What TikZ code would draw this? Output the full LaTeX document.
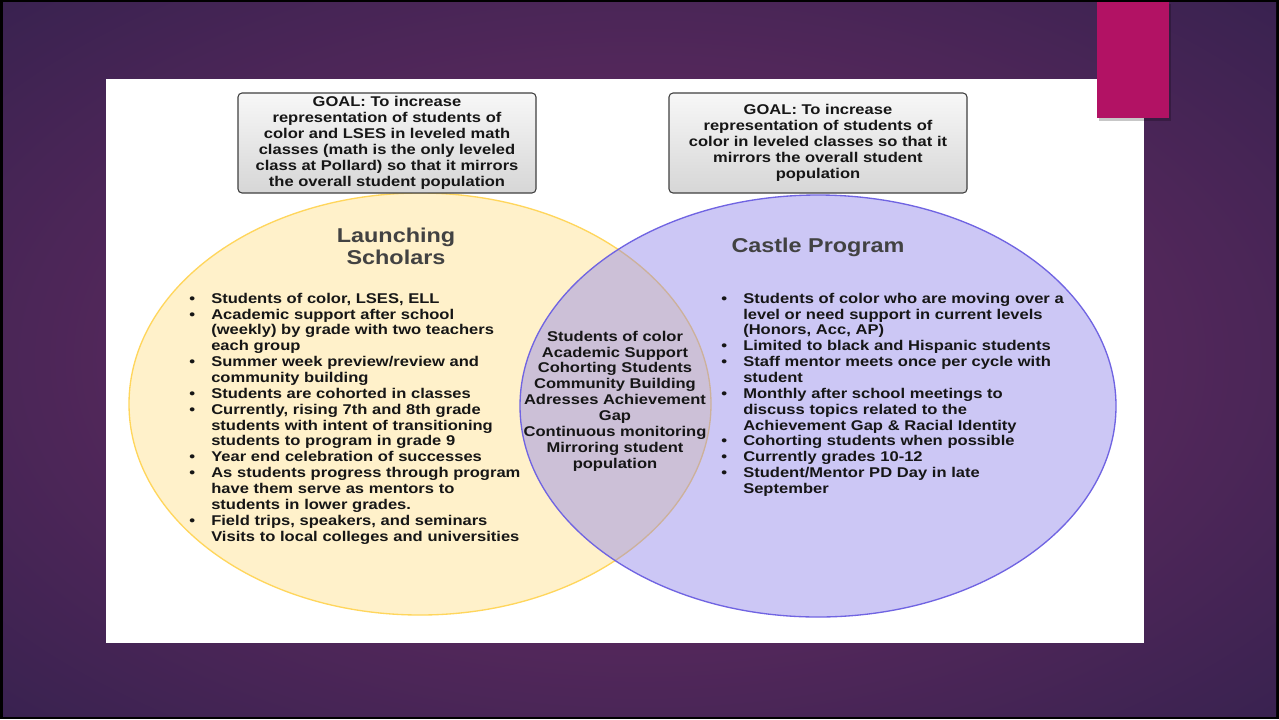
\documentclass[tikz,border=0pt]{standalone}
\usepackage{fontspec}
\setmainfont{Liberation Sans}[FakeStretch=1.17]
\usepackage{enumitem}
\usetikzlibrary{positioning,calc}
\definecolor{SlideDeep}{RGB}{33,29,70}
\definecolor{SlidePlum}{RGB}{96,42,96}
\definecolor{TabMagenta}{RGB}{178,18,100}
\definecolor{SunFill}{RGB}{255,241,202}
\definecolor{SunLine}{RGB}{255,214,92}
\definecolor{LilacFill}{RGB}{144,133,233}
\definecolor{LilacLine}{RGB}{112,100,226}
\definecolor{TitleGray}{RGB}{66,66,66}
\definecolor{InkBlack}{RGB}{22,22,22}
\pgfdeclareradialshading{slideglow}{\pgfpoint{0bp}{0bp}}{%
  color(0bp)=(SlidePlum); color(12bp)=(SlidePlum);
  color(50bp)=(SlideDeep); color(100bp)=(SlideDeep)}
\setlist[itemize]{label=\textbullet,leftmargin=0pt,labelsep=12pt,
  itemsep=0pt,parsep=0pt,topsep=0pt,partopsep=0pt}
\newcommand{\bodyfont}{\bfseries\fontsize{10.6}{11.9}\selectfont}
\tikzset{
  goal/.style={draw=black!75,line width=.8pt,rounded corners=3pt,
    top color=gray!6,bottom color=gray!32,minimum width=223.5pt,
    minimum height=75pt,inner sep=0pt,align=center,font=\bodyfont,text=InkBlack},
  setA/.style={fill=SunFill,draw=SunLine,line width=1pt},
  setB/.style={fill=LilacFill,fill opacity=.45,draw=LilacLine,draw opacity=1,line width=1pt},
  heading/.style={font=\bfseries\fontsize{15}{16.5}\selectfont,text=TitleGray,align=center},
  facts/.style={anchor=north west,inner sep=0pt,align=left,font=\bodyfont,text=InkBlack},
}

\begin{document}
\begin{tikzpicture}[x=0.75pt,y=-0.75pt]
\useasboundingbox (0,0) rectangle (1279,719);
% slide backdrop
\fill[black] (0,0) rectangle (1279,719);
\shade[shading=slideglow] (3,2) rectangle (1276,716);
\fill[white] (106,79) rectangle (1144,643);
\fill[black,opacity=.22] (1099,4) rectangle (1171,121);
\fill[TabMagenta] (1097,2) rectangle (1169,118);

% the two programs
\coordinate (launch) at (420,404);
\coordinate (castle) at (818,406);
\draw[setA] (launch) ellipse [x radius=291,y radius=211];
\draw[setB] (castle) ellipse [x radius=298,y radius=211];

\node[goal] (goalL) at (387,143) {GOAL: To increase\\representation of students of\\color and LSES in leveled math\\classes (math is the only leveled\\class at Pollard) so that it mirrors\\the overall student population};
\node[goal] (goalR) at (818,143) {GOAL: To increase\\representation of students of\\color in leveled classes so that it\\mirrors the overall student\\population};

\node[heading] (titleL) at (396,246) {Launching\\Scholars};
\node[heading] (titleR) at (818,247) {Castle Program};

\node[facts,text width=250pt] (listL) at (211,287) {%
\begin{itemize}
\item Students of color, LSES, ELL
\item Academic support after school\newline (weekly) by grade with two teachers\newline each group
\item Summer week preview/review and\newline community building
\item Students are cohorted in classes
\item Currently, rising 7th and 8th grade\newline students with intent of transitioning\newline students to program in grade 9
\item Year end celebration of successes
\item As students progress through program\newline have them serve as mentors to\newline students in lower grades.
\item Field trips, speakers, and seminars\newline Visits to local colleges and universities
\end{itemize}};

\node[font=\bodyfont,text=InkBlack,align=center] (shared) at (615,401) {Students of color\\Academic Support\\Cohorting Students\\Community Building\\Adresses Achievement\\Gap\\Continuous monitoring\\Mirroring student\\population};

\node[facts,text width=260pt] (listR) at (743,287) {%
\begin{itemize}
\item Students of color who are moving over a\newline level or need support in current levels\newline (Honors, Acc, AP)
\item Limited to black and Hispanic students
\item Staff mentor meets once per cycle with\newline student
\item Monthly after school meetings to\newline discuss topics related to the\newline Achievement Gap \& Racial Identity
\item Cohorting students when possible
\item Currently grades 10-12
\item Student/Mentor PD Day in late\newline September
\end{itemize}};
\end{tikzpicture}
\end{document}
